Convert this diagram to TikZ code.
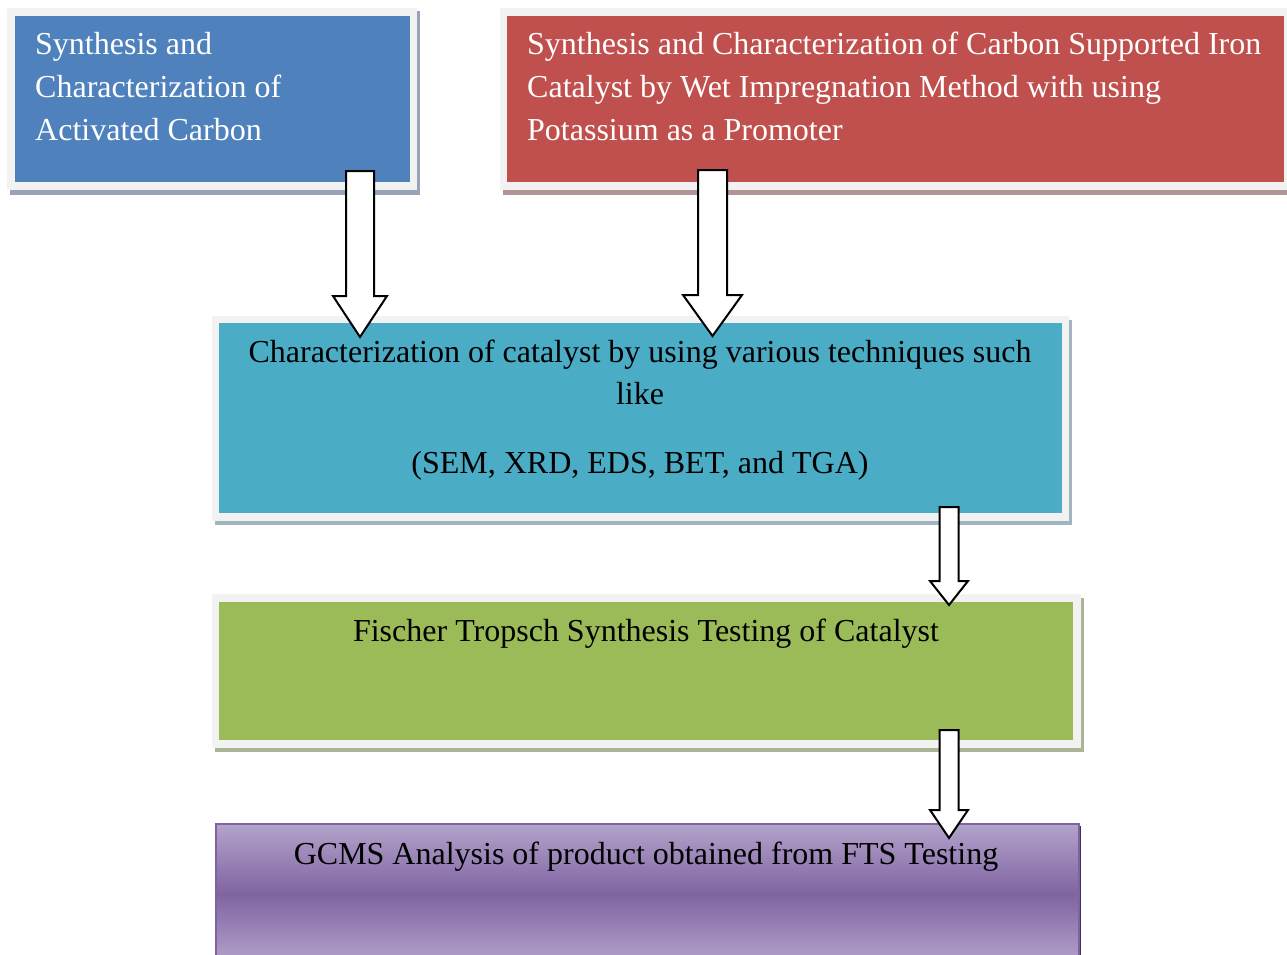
\documentclass[tikz,border=0pt]{standalone}
\usepackage{fontspec}
\setmainfont{Liberation Serif}
\definecolor{cBlue}{HTML}{4F81BD}
\definecolor{cRed}{HTML}{C0504D}
\definecolor{cTeal}{HTML}{4BACC6}
\definecolor{cGreen}{HTML}{9BBB59}
\definecolor{cPurple}{HTML}{8064A2}
\definecolor{cPurpleLight}{HTML}{B3A3CB}
\definecolor{cPurpleLine}{HTML}{7F63A1}
\definecolor{cPurpleShadow}{HTML}{3F3151}
\definecolor{frameGray}{HTML}{F2F2F2}
\definecolor{shBlue}{HTML}{98A4B5}
\definecolor{shRed}{HTML}{B39494}
\definecolor{shTeal}{HTML}{A0B5BD}
\definecolor{shGreen}{HTML}{A9B596}
\newcommand{\blockarr}[7]{%
  \coordinate (#1-from) at (#2,#3);
  \coordinate (#1-to) at (#2,#5);
  \draw[blockarrow] ({#2-#6},#3) -- ({#2+#6},#3) -- ({#2+#6},#4) -- ({#2+#7},#4)
    -- (#1-to) -- ({#2-#7},#4) -- ({#2-#6},#4) -- cycle;}
\begin{document}
\begin{tikzpicture}[x=1pt,y=-1pt,
  inner/.style={inner sep=0pt, anchor=north west, draw=none},
  txt/.style={inner sep=0pt, font=\fontsize{32}{42}\selectfont},
  wtxt/.style={txt, text=white, anchor=base west},
  btxt/.style={txt, text=black, anchor=base},
  blockarrow/.style={draw=black, line width=2pt, fill=white, line join=miter}]
\useasboundingbox (0,0) rectangle (1287,955);
\clip (0,0) rectangle (1287,955);
\fill[white] (0,0) rectangle (1287,955);

% Box 1 (blue)
\fill[shBlue] (10,11) rectangle (420,195);
\fill[frameGray] (7,8) rectangle (417,190);
\node[inner, fill=cBlue, minimum width=395, minimum height=166] (b1) at (15,16) {};

% Box 2 (red)
\fill[shRed] (503,11) rectangle (1292,195);
\fill[frameGray] (500,8) rectangle (1292,190);
\node[inner, fill=cRed, minimum width=777, minimum height=166] (b2) at (507,16) {};

% Box 3 (teal)
\fill[shTeal] (215,320) rectangle (1072,525);
\fill[frameGray] (212,316) rectangle (1069,521);
\node[inner, fill=cTeal, minimum width=843, minimum height=190] (b3) at (219,323) {};

% Box 4 (green)
\fill[shGreen] (215,598) rectangle (1084,752);
\fill[frameGray] (212,594) rectangle (1081,748);
\node[inner, fill=cGreen, minimum width=854, minimum height=138] (b4) at (219,602) {};

% Box 5 (purple)
\fill[cPurpleShadow] (218,826) rectangle (1081,965);
\node[inner, minimum width=863, minimum height=140, top color=cPurpleLight, bottom color=cPurpleLight,
  middle color=cPurple, draw=cPurpleLine, line width=2pt] (b5) at (215,823) {};

% Block arrows
\blockarr{a1}{360}{171}{296}{337}{14}{27}
\blockarr{a2}{712.5}{170}{295}{336}{14.5}{29.5}
\blockarr{a3}{949}{507}{581}{605}{9.5}{19}
\blockarr{a4}{949}{730}{810}{838}{9.5}{19}

% Texts
\node[wtxt] (t1a) at (35,55) {Synthesis and};
\node[wtxt] (t1b) at (35,97.5) {Characterization of};
\node[wtxt] (t1c) at (35,140) {Activated Carbon};

\node[wtxt] (t2a) at (527,55) {Synthesis and Characterization of Carbon Supported Iron};
\node[wtxt] (t2b) at (527,97.5) {Catalyst by Wet Impregnation Method with using};
\node[wtxt] (t2c) at (527,140) {Potassium as a Promoter};

\node[btxt] (t3a) at (640,362) {Characterization of catalyst by using various techniques such};
\node[btxt] (t3b) at (640,404) {like};
\node[btxt] (t3c) at (640,473) {(SEM, XRD, EDS, BET, and TGA)};

\node[btxt] (t4) at (646,641) {Fischer Tropsch Synthesis Testing of Catalyst};

\node[btxt] (t5) at (646,864) {GCMS Analysis of product obtained from FTS Testing};
\end{tikzpicture}
\end{document}
